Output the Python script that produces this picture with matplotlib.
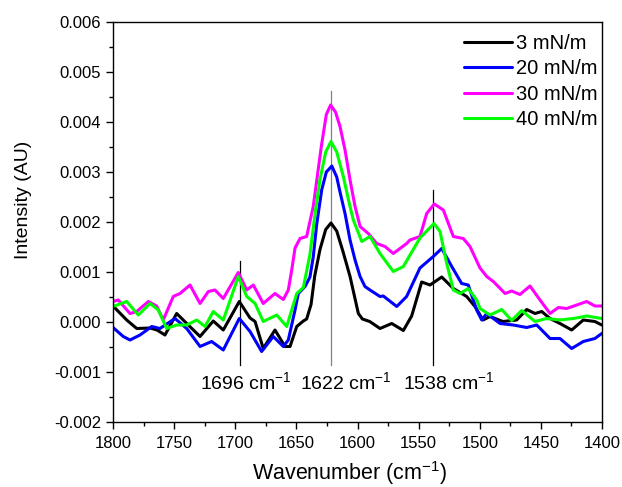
import numpy as np
import matplotlib
matplotlib.use("Agg")
import matplotlib.pyplot as plt
from matplotlib.ticker import MultipleLocator, FormatStrFormatter

plt.rcParams['font.family'] = ['Liberation Sans', 'DejaVu Sans']
plt.rcParams['mathtext.fontset'] = 'custom'
plt.rcParams['mathtext.rm'] = 'Liberation Sans'
plt.rcParams['mathtext.default'] = 'regular'
plt.rcParams['axes.unicode_minus'] = False

# ---- data (intensity in units of 1e-3 AU) ----
wn_black = [1800, 1788.8, 1780.6, 1769.7, 1764, 1757.5, 1747.9, 1739.7, 1728.8, 1718.0, 1709.8,
            1696.7, 1687.9, 1683.8, 1677.1, 1667.5, 1659.3, 1655.2, 1649.7, 1644.3, 1641.6, 1638.0,
            1635.0, 1630.7, 1626.0, 1621.7, 1617.0, 1612.0, 1606.1, 1599.3, 1596.0, 1590.0,
            1581.6, 1572.0, 1562.5, 1555.7, 1547.5, 1540.7, 1531.1, 1521.6, 1510.7, 1503.9,
            1497.3, 1491.6, 1481.0, 1469.8, 1461.6, 1454.8, 1449.3, 1442.5, 1434.4, 1424.8,
            1415.3, 1405.8, 1400.2]
ab_black = [0.32, 0.04, -0.13, -0.12, -0.16, -0.26, 0.17, -0.03, -0.29, 0.02, -0.16,
            0.41, 0.08, 0.01, -0.53, -0.16, -0.49, -0.49, -0.09, 0.02, 0.06, 0.35,
            0.92, 1.45, 1.85, 1.98, 1.82, 1.42, 0.91, 0.17, 0.06, 0.01,
            -0.13, -0.03, -0.17, 0.12, 0.80, 0.74, 0.90, 0.67, 0.51, 0.31,
            0.04, 0.11, 0.01, 0.04, 0.25, 0.17, 0.21, 0.07, -0.03, -0.16,
            0.04, 0.01, -0.06]

wn_blue = [1800, 1791.6, 1786.1, 1777.9, 1768.3, 1761.6, 1749.3, 1739.7, 1728.8, 1719.3, 1709.8,
           1696.7, 1687.9, 1678.4, 1668.9, 1660.7, 1656.6, 1651.1, 1648.4, 1642.9, 1638.9, 1636.2,
           1633.4, 1629.3, 1625.5, 1621.0, 1617.0, 1614.3, 1610.2, 1606.1, 1602.0, 1597.9,
           1593.9, 1589.8, 1581.6, 1578.9, 1567.9, 1559.8, 1548.9, 1538.0, 1531.1, 1522.9,
           1514.8, 1509.4, 1502.5, 1498.4, 1494.3, 1483.4, 1472.6, 1461.6, 1453.4, 1442.5,
           1434.4, 1424.8, 1415.3, 1405.8, 1400.2]
ab_blue = [-0.11, -0.29, -0.36, -0.26, -0.09, -0.13, 0.07, -0.13, -0.49, -0.39, -0.56,
           0.07, -0.19, -0.59, -0.29, -0.49, -0.36, 0.24, 0.57, 0.71, 0.90, 1.30,
           1.95, 2.64, 3.00, 3.12, 2.90, 2.60, 2.17, 1.64, 1.24, 0.91,
           0.71, 0.64, 0.51, 0.52, 0.31, 0.51, 1.08, 1.31, 1.47, 1.11,
           0.77, 0.74, 0.24, 0.04, 0.17, -0.03, -0.06, -0.11, -0.06, -0.33,
           -0.33, -0.53, -0.39, -0.33, -0.23]

wn_mag = [1800, 1795.7, 1786.1, 1780.6, 1771.1, 1764.3, 1758.9, 1750.7, 1745.2, 1737.0, 1728.8,
          1722.0, 1716.6, 1709.8, 1697.5, 1690.6, 1685.2, 1677.1, 1667.5, 1660.7, 1656.6,
          1653.8, 1651.1, 1647.0, 1641.6, 1636.2, 1629.6, 1625.5, 1622.0, 1618.0, 1614.3,
          1610.2, 1606.1, 1602.0, 1597.9, 1591.2, 1584.3, 1577.5, 1570.7, 1559.8, 1557.1,
          1548.9, 1543.4, 1537.2, 1529.8, 1521.6, 1513.5, 1508.0, 1499.8, 1494.3, 1488.9,
          1479.3, 1473.9, 1467.1, 1458.9, 1450.7, 1442.5, 1435.7, 1428.9, 1420.7, 1412.5,
          1405.8, 1400.2]
ab_mag = [0.41, 0.44, 0.17, 0.21, 0.41, 0.32, 0.04, 0.51, 0.57, 0.74, 0.37,
          0.61, 0.64, 0.47, 0.99, 0.64, 0.74, 0.37, 0.57, 0.45, 0.64,
          1.04, 1.48, 1.67, 1.71, 2.31, 3.51, 4.15, 4.34, 4.20, 3.91,
          3.44, 2.84, 2.31, 1.91, 1.77, 1.57, 1.51, 1.37, 1.57, 1.64,
          1.71, 2.17, 2.36, 2.24, 1.71, 1.67, 1.51, 1.08, 0.91, 0.81,
          0.57, 0.62, 0.55, 0.72, 0.44, 0.17, 0.29, 0.27, 0.34, 0.41,
          0.32, 0.32]

wn_green = [1800, 1788.8, 1779.3, 1769.7, 1762.9, 1756.1, 1747.9, 1739.7, 1731.5, 1724.7, 1718.0,
            1709.8, 1697.5, 1690.6, 1683.8, 1677.1, 1666.1, 1657.9, 1649.7, 1644.3, 1638.9,
            1634.8, 1630.7, 1626.0, 1621.7, 1617.0, 1611.6, 1607.0, 1603.4, 1596.5, 1589.8,
            1581.6, 1570.7, 1562.5, 1548.9, 1537.4, 1532.5, 1527.0, 1521.6, 1516.2, 1509.4,
            1502.5, 1499.8, 1491.6, 1482.0, 1473.9, 1465.7, 1454.8, 1445.2, 1434.4, 1423.5,
            1412.5, 1400.2]
ab_green = [0.31, 0.41, 0.14, 0.37, 0.24, -0.13, -0.06, -0.06, 0.04, -0.09, 0.21,
            0.04, 0.91, 0.51, 0.37, 0.01, 0.14, -0.09, 0.57, 0.69, 1.35,
            2.15, 2.85, 3.40, 3.61, 3.40, 2.91, 2.40, 2.04, 1.61, 1.71,
            1.37, 1.01, 1.11, 1.68, 1.97, 1.81, 1.17, 0.64, 0.57, 0.67,
            0.44, 0.27, 0.14, 0.25, 0.03, 0.23, 0.01, 0.07, 0.04, 0.07,
            0.12, 0.07]

labels = ['3 mN/m', '20 mN/m', '30 mN/m', '40 mN/m']
colors = ['#000000', '#0000FF', '#FF00FF', '#00FF00']

peak_pos = [1696, 1622, 1538]
peak_top = [1.22, 4.61, 2.64]
peak_bottom = -0.86
peak_colors = ['#000000', '#808080', '#000000']
peak_labels = ['1696 cm$^{-1}$', '1622 cm$^{-1}$', '1538 cm$^{-1}$']
peak_label_x = [1729.0, 1647.0, 1563.0]   # left edge of each label
peak_label_y = -1.2

scale = 1e-3

fig = plt.figure(figsize=(6.22, 4.87), dpi=100)
ax = fig.add_axes([113 / 622, 1 - 422 / 487, (602 - 113) / 622, (422 - 22) / 487])

series = [(wn_black, ab_black), (wn_blue, ab_blue), (wn_mag, ab_mag), (wn_green, ab_green)]
for (wn, ab), lab, c in zip(series, labels, colors):
    ax.plot(wn, np.array(ab) * scale, color=c, lw=2.2, label=lab,
            solid_joinstyle='round', solid_capstyle='round')

for p, t, c in zip(peak_pos, peak_top, peak_colors):
    ax.plot([p, p], [peak_bottom * scale, t * scale], color=c, lw=0.9, zorder=1)
for lx, l in zip(peak_label_x, peak_labels):
    ax.text(lx, peak_label_y * scale, l, ha='left', va='center', fontsize=14)

ax.set_xlim(1800, 1400)
ax.set_ylim(-0.002, 0.006)
ax.xaxis.set_major_locator(MultipleLocator(50))
ax.xaxis.set_minor_locator(MultipleLocator(25))
ax.yaxis.set_major_locator(MultipleLocator(0.001))
ax.yaxis.set_minor_locator(MultipleLocator(0.0005))
ax.yaxis.set_major_formatter(FormatStrFormatter('%.3f'))
ax.tick_params(which='both', direction='out', top=False, right=False, labelsize=12, width=1)
ax.tick_params(which='major', length=5)
ax.tick_params(which='minor', length=3)
ax.tick_params(axis='x', which='major', pad=5)
for s in ax.spines.values():
    s.set_linewidth(1.0)

ax.set_xlabel('Wavenumber (cm$^{-1}$)', fontsize=15.5)
ax.xaxis.set_label_coords(0.483, -0.092)
ax.set_ylabel('Intensity (AU)', fontsize=14)
ax.yaxis.set_label_coords(-0.166, 0.555)

ax.legend(loc='upper right', frameon=False, fontsize=14.5, handlelength=2.4,
          handletextpad=0.2, labelspacing=0.32, borderaxespad=0.0,
          bbox_to_anchor=(1.008, 0.99))

fig.savefig('out.png', dpi=100)
